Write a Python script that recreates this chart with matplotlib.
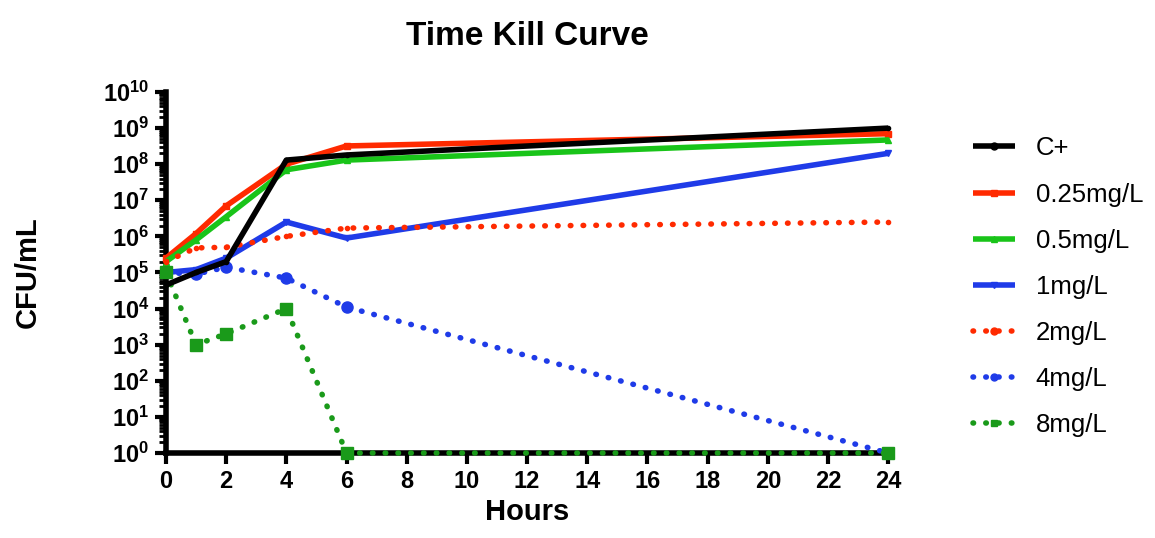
import math
import matplotlib
matplotlib.use("Agg")
import matplotlib.pyplot as plt
from matplotlib.ticker import LogLocator, FuncFormatter, NullFormatter

plt.rcParams['font.family'] = ['Liberation Sans', 'DejaVu Sans']
plt.rcParams['mathtext.fontset'] = 'custom'
plt.rcParams['mathtext.rm'] = 'Liberation Sans'
plt.rcParams['mathtext.bf'] = 'Liberation Sans:bold'

# ---------------- data ----------------
hours = [0, 1, 2, 4, 6, 24]
c_plus = [4.5e4, 1.0e5, 2.0e5, 1.3e8, 1.8e8, 1.0e9]
mg025 = [2.5e5, 1.2e6, 7.0e6, 1.0e8, 3.2e8, 7.0e8]
mg05 = [2.0e5, 8.0e5, 3.5e6, 7.0e7, 1.3e8, 4.7e8]
mg1 = [1.0e5, 1.2e5, 2.5e5, 2.5e6, 9.0e5, 2.0e8]
mg2 = [2.0e5, 4.8e5, 5.0e5, 1.0e6, 1.7e6, 2.5e6]
mg4 = [1.0e5, 9.0e4, 1.4e5, 7.0e4, 1.1e4, 1.0]
mg8 = [1.0e5, 1.0e3, 2.0e3, 1.0e4, 1.0, 1.0]

labels = ['C+', '0.25mg/L', '0.5mg/L', '1mg/L', '2mg/L', '4mg/L', '8mg/L']
xticks = list(range(0, 25, 2))

fig = plt.figure(figsize=(11.55, 5.38), dpi=100)
ax = fig.add_axes([0.1437, 0.158, 0.769 - 0.1437, 0.829 - 0.158])

dot = (0, (0.1, 2.2))
series = [
    (c_plus, dict(color='black', lw=4, ls='-', marker='o', ms=3)),
    (mg025, dict(color='#ff2a00', lw=4, ls='-', marker='s', ms=4)),
    (mg05, dict(color='#19c419', lw=4, ls='-', marker='^', ms=4)),
    (mg1, dict(color='#1f3be8', lw=4, ls='-', marker='v', ms=4)),
    (mg2, dict(color='#ff2a00', lw=4, ls=dot, marker='o', ms=3)),
    (mg4, dict(color='#1f3be8', lw=4, ls=dot, marker='o', ms=8)),
    (mg8, dict(color='#1a9a1a', lw=4, ls=dot, marker='s', ms=8)),
]
handles = []
for (vals, kw), lab in zip(series, labels):
    ln, = ax.plot(hours, vals, dash_capstyle='round', solid_capstyle='butt',
                  clip_on=False, zorder=3, label=lab, **kw)
    handles.append(ln)
handles[0].set_zorder(4)

ax.set_yscale('log')
ax.set_ylim(1, 1e10)
ax.set_xlim(0, 24)
ax.set_xticks(xticks)
ax.yaxis.set_major_locator(LogLocator(base=10, numticks=20))
ax.yaxis.set_minor_locator(LogLocator(base=10, subs=range(2, 10), numticks=20))
ax.yaxis.set_minor_formatter(NullFormatter())
ax.yaxis.set_major_formatter(FuncFormatter(lambda v, p: r'$\mathbf{10^{%d}}$' % round(math.log10(v))))

for s in ['top', 'right']:
    ax.spines[s].set_visible(False)
for s in ['left', 'bottom']:
    ax.spines[s].set_linewidth(4)
ax.tick_params(axis='both', which='major', width=3, length=8, labelsize=17, pad=4)
ax.tick_params(axis='y', which='minor', width=2, length=5)
for t in ax.get_xticklabels():
    t.set_fontweight('bold')

ax.set_title('Time Kill Curve', fontsize=24, fontweight='bold', pad=34)
ax.set_xlabel('Hours', fontsize=21, fontweight='bold', labelpad=4)
ax.set_ylabel('CFU/mL', fontsize=21, fontweight='bold', labelpad=44)

leg = ax.legend(handles=handles, loc='upper left', bbox_to_anchor=(1.085, 0.941),
                frameon=False, fontsize=18.5, handlelength=1.65, labelspacing=0.86,
                handletextpad=0.8)
for h in leg.legend_handles:
    h.set_markersize(5)

fig.savefig('out.png', dpi=100)
